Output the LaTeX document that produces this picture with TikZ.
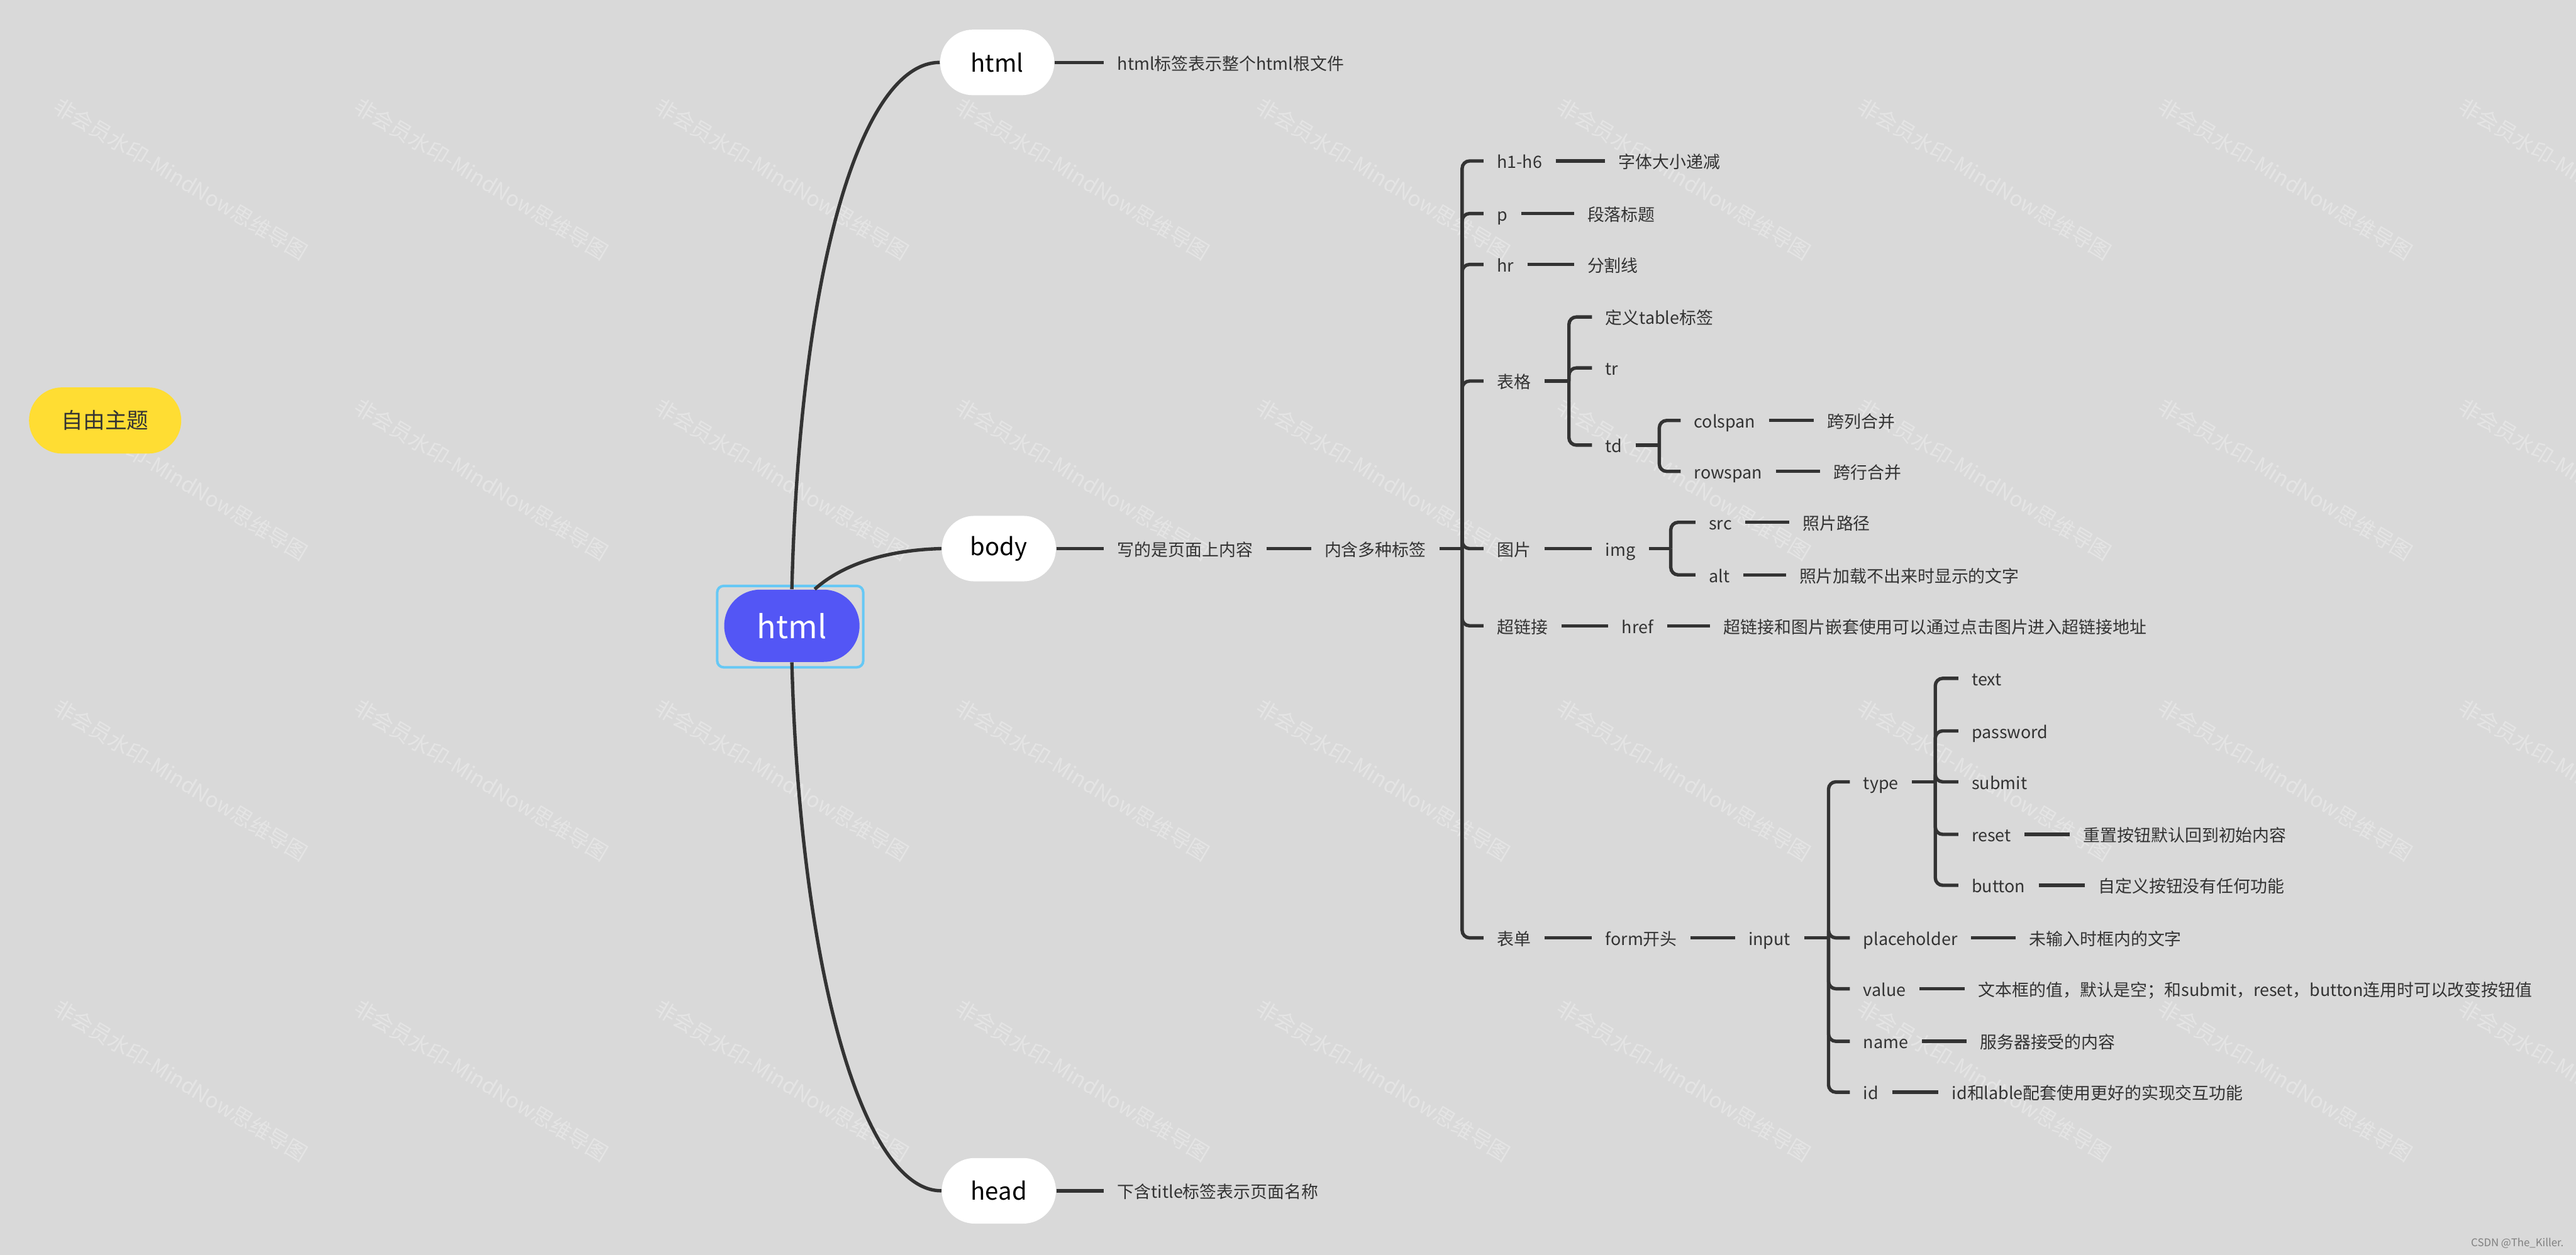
\documentclass[tikz,border=0pt]{standalone}
\usepackage{fontspec}
\setmainfont{Noto Sans CJK SC}
\definecolor{bggray}{RGB}{217,217,217}
\definecolor{inkgray}{RGB}{51,51,51}
\definecolor{rootblue}{RGB}{83,86,245}
\definecolor{selblue}{RGB}{102,200,245}
\definecolor{themeyellow}{RGB}{255,221,51}

\begin{document}
\begin{tikzpicture}[x=0.02732cm,y=-0.02732cm,
        trunk/.style={draw=inkgray, line width=1.6pt},
        link/.style={draw=inkgray, line width=1.6pt, rounded corners=3.5pt},
        leaf/.style={anchor=west, inner xsep=6.2pt, inner ysep=0pt,
            text height=0.85em, text depth=0.15em, text=inkgray,
            font=\fontsize{8pt}{9pt}\selectfont},
        pill/.style={fill=white, rounded corners=15.5pt, minimum width=54pt,
            minimum height=31pt, inner sep=0pt,
            font=\fontsize{11.4pt}{13pt}\selectfont},
        wmark/.style={text=white, opacity=0.3, rotate=-31,
            font=\fontsize{10pt}{12pt}\selectfont}]
    \useasboundingbox (0,0) rectangle (1568,764);
    \fill[bggray] (0,0) rectangle (1568,764);

    % Watermark grid.
    \foreach \c in {0,...,8}
        \foreach \r in {0,...,3}
            \node[wmark] (wm-\c-\r) at (110+183*\c, 109+183*\r)
                {非会员水印-MindNow思维导图};

    % Floating topic and central topic.
    \node[fill=themeyellow, rounded corners=15.6pt, minimum width=72pt,
        minimum height=31.3pt, text=inkgray,
        font=\fontsize{10.3pt}{12pt}\selectfont] (free) at (64,256) {自由主题};
    \node[fill=rootblue, rounded corners=17pt, minimum width=64pt,
        minimum height=34.2pt, text=white,
        font=\fontsize{15pt}{17pt}\selectfont] (root) at (482,381) {html};
    \draw[selblue, line width=1.2pt, rounded corners=3pt]
        ([shift={(-4,-2)}]root.north west) rectangle ([shift={(2,3)}]root.south east);

    % Main branches.
    \node[pill] (html) at (607,38)  {html};
    \node[pill] (body) at (608,334) {body};
    \node[pill] (head) at (608,725) {head};
    \draw[trunk] (root.north) .. controls (487,160) and (525,38) .. (html.west);
    \draw[trunk] ([xshift=0.38cm]root.north)
        .. controls (510,346) and (535,335) .. (body.west);
    \draw[trunk] (root.south) .. controls (487,590) and (525,725) .. (head.west);

    \node[leaf] (htmlnote) at (672,38)  {html标签表示整个html根文件};
    \node[leaf] (bodynote) at (672,334) {写的是页面上内容};
    \node[leaf] (tags)     at (798,334) {内含多种标签};
    \node[leaf] (headnote) at (672,725) {下含title标签表示页面名称};
    \draw[link] (html) -- (htmlnote);
    \draw[link] (body) -- (bodynote);
    \draw[link] (bodynote) -- (tags);
    \draw[link] (head) -- (headnote);

    % The tags under body.
    \coordinate (mainJ) at (890,334);
    \node[leaf] (h16)  at (903,98)  {h1-h6};
    \node[leaf] (para) at (903,130) {p};
    \node[leaf] (hr)   at (903,161) {hr};
    \node[leaf] (tbl)  at (903,232) {表格};
    \node[leaf] (pic)  at (903,334) {图片};
    \node[leaf] (lnk)  at (903,381) {超链接};
    \node[leaf] (form) at (903,571) {表单};
    \draw[link] (tags) -- (mainJ);
    \foreach \k in {h16,para,hr,tbl,pic,lnk,form}
        \draw[link] (mainJ) |- (\k.west);

    \node[leaf] (h16d)  at (977,98)  {字体大小递减};
    \node[leaf] (parad) at (958,130) {段落标题};
    \node[leaf] (hrd)   at (958,161) {分割线};
    \draw[link] (h16) -- (h16d);
    \draw[link] (para) -- (parad);
    \draw[link] (hr) -- (hrd);

    % Table.
    \coordinate (tblJ) at (955,232);
    \node[leaf] (tdef) at (969,193) {定义table标签};
    \node[leaf] (tr)   at (969,224) {tr};
    \node[leaf] (td)   at (969,271) {td};
    \draw[link] (tbl) -- (tblJ);
    \foreach \k in {tdef,tr,td}
        \draw[link] (tblJ) |- (\k.west);
    \coordinate (tdJ) at (1010,271);
    \node[leaf] (colspan)  at (1023,256) {colspan};
    \node[leaf] (rowspan)  at (1023,287) {rowspan};
    \node[leaf] (colspand) at (1104,256) {跨列合并};
    \node[leaf] (rowspand) at (1108,287) {跨行合并};
    \draw[link] (td) -- (tdJ);
    \foreach \k in {colspan,rowspan}
        \draw[link] (tdJ) |- (\k.west);
    \draw[link] (colspan) -- (colspand);
    \draw[link] (rowspan) -- (rowspand);

    % Image.
    \coordinate (imgJ) at (1017,334);
    \node[leaf] (img)  at (969,334)  {img};
    \node[leaf] (src)  at (1032,318) {src};
    \node[leaf] (alt)  at (1032,350) {alt};
    \node[leaf] (srcd) at (1089,318) {照片路径};
    \node[leaf] (altd) at (1087,350) {照片加载不出来时显示的文字};
    \draw[link] (pic) -- (img);
    \draw[link] (img) -- (imgJ);
    \foreach \k in {src,alt}
        \draw[link] (imgJ) |- (\k.west);
    \draw[link] (src) -- (srcd);
    \draw[link] (alt) -- (altd);

    % Hyperlink.
    \node[leaf] (href)  at (979,381)  {href};
    \node[leaf] (hrefd) at (1041,381) {超链接和图片嵌套使用可以通过点击图片进入超链接地址};
    \draw[link] (lnk) -- (href);
    \draw[link] (href) -- (hrefd);

    % Form.
    \node[leaf] (formtag) at (969,571)  {form开头};
    \node[leaf] (input)   at (1056,571) {input};
    \draw[link] (form) -- (formtag);
    \draw[link] (formtag) -- (input);
    \coordinate (inputJ) at (1113,571);
    \node[leaf] (type) at (1126,476) {type};
    \node[leaf] (ph)   at (1126,571) {placeholder};
    \node[leaf] (val)  at (1126,602) {value};
    \node[leaf] (nm)   at (1126,634) {name};
    \node[leaf] (idn)  at (1126,665) {id};
    \draw[link] (input) -- (inputJ);
    \foreach \k in {type,ph,val,nm,idn}
        \draw[link] (inputJ) |- (\k.west);

    \coordinate (typeJ) at (1178,476);
    \node[leaf] (ttext)  at (1192,413) {text};
    \node[leaf] (tpass)  at (1192,445) {password};
    \node[leaf] (tsub)   at (1192,476) {submit};
    \node[leaf] (treset) at (1192,508) {reset};
    \node[leaf] (tbtn)   at (1192,539) {button};
    \draw[link] (type) -- (typeJ);
    \foreach \k in {ttext,tpass,tsub,treset,tbtn}
        \draw[link] (typeJ) |- (\k.west);
    \node[leaf] (tresetd) at (1260,508) {重置按钮默认回到初始内容};
    \node[leaf] (tbtnd)   at (1269,539) {自定义按钮没有任何功能};
    \draw[link] (treset) -- (tresetd);
    \draw[link] (tbtn) -- (tbtnd);

    \node[leaf] (phd)  at (1227,571) {未输入时框内的文字};
    \node[leaf] (vald) at (1196,602) {文本框的值，默认是空；和submit，reset，button连用时可以改变按钮值};
    \node[leaf] (nmd)  at (1197,634) {服务器接受的内容};
    \node[leaf] (idd)  at (1180,665) {id和lable配套使用更好的实现交互功能};
    \draw[link] (ph) -- (phd);
    \draw[link] (val) -- (vald);
    \draw[link] (nm) -- (nmd);
    \draw[link] (idn) -- (idd);

    \node[anchor=east, text=gray, font=\fontsize{5pt}{6pt}\selectfont]
        (credit) at (1565,757) {CSDN @The\_Killer.};
\end{tikzpicture}
\end{document}
